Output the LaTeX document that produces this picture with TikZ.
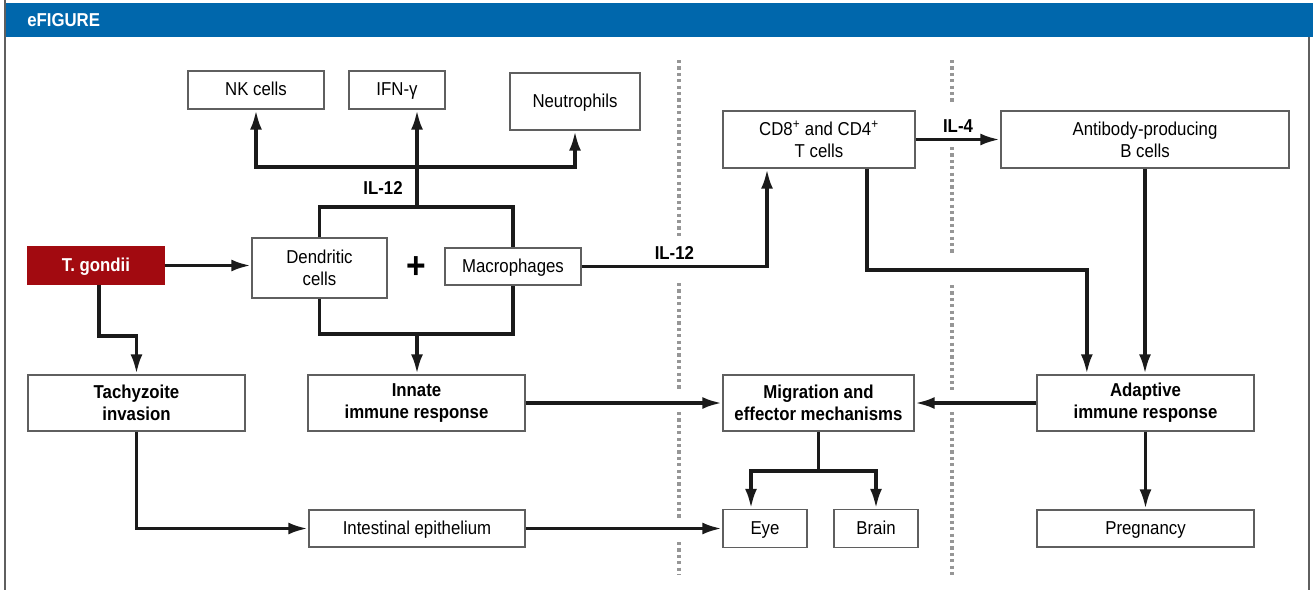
\documentclass[tikz,border=0pt]{standalone}
\usepackage{fontspec}
\setmainfont[FakeStretch=0.9]{Liberation Sans}
\usetikzlibrary{arrows.meta}
\usetikzlibrary{positioning}
\usetikzlibrary{calc}

\definecolor{hdrblue}{RGB}{0,103,172}
\definecolor{tgred}{RGB}{162,10,16}
\definecolor{boxgray}{RGB}{95,95,95}
\definecolor{dotgray}{RGB}{150,150,150}
\definecolor{wireblack}{RGB}{26,26,26}

\begin{document}
\begin{tikzpicture}[x=0.75pt,y=-0.75pt]
		\tikzset{box/.style = {shape=rectangle,draw=boxgray,line width=1.1pt,fill=white,inner sep=0pt,align=center,font=\fontsize{14}{16.5}\selectfont}}
		\tikzset{onebox/.style = {box,text height=0.85em,text depth=0pt}}
		\tikzset{boldbox/.style = {box,font=\fontsize{14}{16.5}\selectfont\bfseries}}
		\tikzset{lbl/.style = {inner sep=0pt,font=\fontsize{14}{16}\selectfont\bfseries}}
		\tikzset{wire/.style = {line width=2.8pt,draw=wireblack}}
		\tikzset{edge/.style = {wire,-{Latex[length=15pt,width=9pt]}}}
		\tikzset{divider/.style = {draw=dotgray,line width=2.4pt,dash pattern=on 2.4pt off 2.4pt}}
		\useasboundingbox (0,0) rectangle (1313,590);
		
		% frame
		\fill[hdrblue] (5,3) rectangle (1313,37);
		\draw[boxgray,line width=1pt] (5,0) -- (5,590);
		\draw[boxgray,line width=1pt] (1309,37) -- (1309,590);
		\node[lbl, anchor=west, text=white] (title) at (27,20) {eFIGURE};
		
		% dividers
		\draw[divider] (679,60) -- (679,237);
		\draw[divider] (679,283) -- (679,390);
		\draw[divider] (679,412) -- (679,520);
		\draw[divider] (679,542) -- (679,575);
		\draw[divider] (952,60) -- (952,103);
		\draw[divider] (952,147) -- (952,255);
		\draw[divider] (952,285) -- (952,390);
		\draw[divider] (952,412) -- (952,575);
		
		% vertices
		\node[onebox, minimum width=102pt, minimum height=28.5pt] (nk) at (256,90) {NK cells};
		\node[onebox, minimum width=72pt, minimum height=28.5pt] (ifn) at (397,90) {IFN-γ};
		\node[onebox, minimum width=97.5pt, minimum height=42.75pt] (neu) at (575,101.5) {Neutrophils};
		
		\node[onebox, fill=tgred, draw=tgred, text=white, font=\fontsize{14}{16}\selectfont\bfseries, minimum width=102pt, minimum height=27.75pt] (tg) at (96,265.5) {T. gondii};
		\node[box, minimum width=101.25pt, minimum height=45pt] (dc) at (319.5,268) {Dendritic\\cells};
		\node[inner sep=0pt, font=\fontsize{28}{28}\selectfont\bfseries] (plus) at (416,268) {+};
		\node[onebox, minimum width=102pt, minimum height=27.75pt] (mac) at (513,266.5) {Macrophages};
		
		\node[box, minimum width=144pt, minimum height=42.75pt] (tc) at (819,139.5) {CD8\textsuperscript{+} and CD4\textsuperscript{+}\\T cells};
		\node[box, minimum width=216pt, minimum height=42.75pt] (bc) at (1145,139.5) {Antibody-producing\\B cells};
		
		\node[boldbox, minimum width=162.75pt, minimum height=42pt] (tach) at (136.5,403) {Tachyzoite\\invasion};
		\node[boldbox, minimum width=162.75pt, minimum height=42pt] (inn) at (416.5,403) {Innate\\immune response};
		\node[boldbox, minimum width=143.25pt, minimum height=42pt] (mig) at (818.5,403) {Migration and\\effector mechanisms};
		\node[boldbox, minimum width=162.75pt, minimum height=42pt] (ada) at (1145.5,403) {Adaptive\\immune response};
		
		\node[onebox, minimum width=162pt, minimum height=27.75pt] (int) at (417,528.5) {Intestinal epithelium};
		\node[onebox, minimum width=63pt, minimum height=28.5pt] (eye) at (765,528.5) {Eye};
		\node[onebox, minimum width=63pt, minimum height=28.5pt] (brain) at (876,528.5) {Brain};
		\node[onebox, minimum width=162.75pt, minimum height=27.75pt] (preg) at (1145.5,528.5) {Pregnancy};
		
		\coordinate (fan) at (417,167);
		\coordinate (hi) at (417,207);
		\coordinate (lo) at (417,334);
		
		%edges
		\draw[edge] (tg.east) -- (tg.east -| dc.west);
		\draw[edge] ([xshift=2pt]tg.south) -- ++(0,51) -| (tach.north);
		\draw[edge] (tach.south) |- (int.west);
		\draw[edge] (int.east) -- (eye.west);
		
		\draw[wire] (dc.north) |- (hi) -| (mac.north);
		\draw[wire] (dc.south) |- (lo) -| (mac.south);
		\draw[edge] (lo) -- (lo |- inn.north);
		\draw[edge] (hi) -- (hi |- ifn.south);
		\draw[edge] (fan) -| (nk.south);
		\draw[edge] (fan) -| (neu.south);
		\node[lbl] (il12a) at (383,188) {IL-12};
		
		\draw[edge] (mac.east) -| node[lbl, above=4pt, pos=0.25] (il12b) {IL-12} ([xshift=-39pt]tc.south);
		\draw[edge] (tc.east) -- node[lbl, above=4pt] (il4) {IL-4} (bc.west);
		\draw[edge] ([xshift=36pt]tc.south) -- ++(0,101) -| ([xshift=-44pt]ada.north);
		\draw[edge] (bc.south) -- (bc.south |- ada.north);
		
		\draw[edge] (inn.east) -- (mig.west);
		\draw[edge] (ada.west) -- (mig.east);
		\draw[edge] (ada.south) -- (preg.north);
		
		\draw[wire] (mig.south) -- ++(0,39) coordinate (split);
		\draw[edge] (split) -| ([xshift=-10.5pt]eye.north);
		\draw[edge] (split) -| (brain.north);
		
		\end{tikzpicture}
\end{document}
